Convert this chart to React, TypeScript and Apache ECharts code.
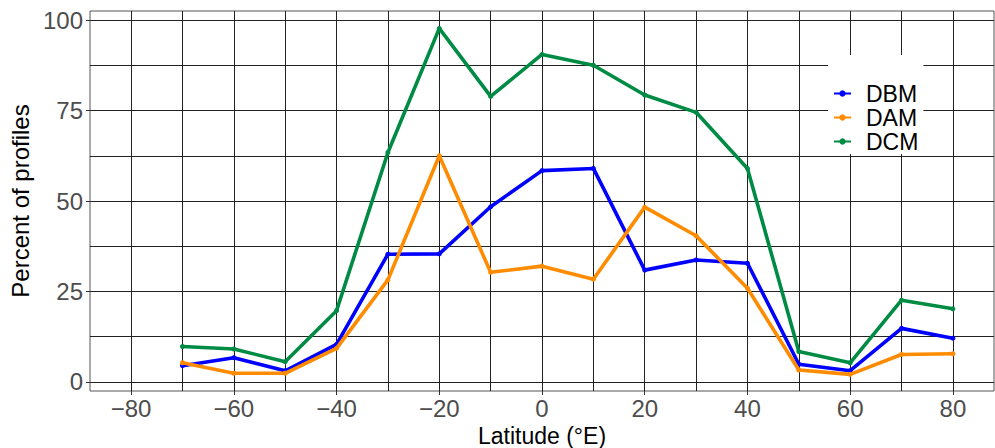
import React, { useEffect, useRef } from "react";
import * as echarts from "echarts";

const latitudes = [-70, -60, -50, -40, -30, -20, -10, 0, 10, 20, 30, 40, 50, 60, 70, 80];
const dbm = [4.5, 6.7, 3.1, 10.4, 35.3, 35.4, 48.4, 58.4, 59.0, 30.9, 33.7, 32.8, 4.9, 3.1, 14.8, 12.1];
const dam = [5.3, 2.4, 2.4, 9.3, 28.2, 62.5, 30.3, 32.0, 28.4, 48.3, 40.4, 25.9, 3.3, 2.1, 7.6, 7.8];
const dcm = [9.8, 9.1, 5.6, 19.7, 63.4, 97.7, 78.9, 90.5, 87.5, 79.3, 74.5, 59.0, 8.4, 5.3, 22.6, 20.2];

const xMajorTicks = [-80, -60, -40, -20, 0, 20, 40, 60, 80];
const xGridTicks = [-80, -70, -60, -50, -40, -30, -20, -10, 0, 10, 20, 30, 40, 50, 60, 70, 80];
const yMajorTicks = [0, 25, 50, 75, 100];
const yGridTicks = [0, 12.5, 25, 37.5, 50, 62.5, 75, 87.5, 100];

const seriesNames = ["DBM", "DAM", "DCM"];
const seriesColors = ["#0000ff", "#ff8c00", "#008b45"];
const seriesValues = [dbm, dam, dcm];

const FONT = "Liberation Sans, Arial, sans-serif";
const minusFmt = (v: number) => String(v).replace("-", "\u2212");

export default function App() {
  const ref = useRef<HTMLDivElement>(null);
  useEffect(() => {
    document.body.style.margin = "0";
    if (!ref.current) return;
    const chart = echarts.init(ref.current, null, { renderer: "svg" });
    const gridLine = { show: true, lineStyle: { color: "#222", width: 1 } };
    chart.setOption({
      animation: false,
      backgroundColor: "#fff",
      textStyle: { fontFamily: FONT },
      grid: {
        left: 90,
        right: 1,
        top: 11,
        bottom: 57,
        containLabel: false,
        outerBoundsMode: "none",
        show: true,
        borderColor: "#555",
        borderWidth: 1,
        backgroundColor: "transparent",
      },
      legend: {
        orient: "vertical",
        left: 828,
        top: 55,
        padding: [27, 5, 1, 5],
        itemGap: 1,
        itemWidth: 17,
        itemHeight: 8,
        backgroundColor: "#fff",
        data: seriesNames,
        textStyle: {
          fontFamily: FONT,
          fontSize: 23,
          lineHeight: 23,
          color: "#000",
          padding: [0, 0, 0, 10],
        },
      },
      xAxis: [
        {
          type: "value",
          min: -88,
          max: 88,
          position: "bottom",
          axisLine: { show: false, onZero: false },
          axisTick: { show: false, customValues: xGridTicks },
          axisLabel: { show: false },
          splitLine: gridLine,
        },
        {
          type: "value",
          min: -88,
          max: 88,
          position: "bottom",
          gridIndex: 0,
          axisLine: { show: false, onZero: false },
          axisTick: { show: true, length: 4, customValues: xMajorTicks, lineStyle: { color: "#333", width: 1 } },
          axisLabel: {
            show: true,
            customValues: xMajorTicks,
            formatter: minusFmt,
            fontSize: 24,
            color: "#4d4d4d",
            fontFamily: FONT,
            margin: 5,
          },
          splitLine: { show: false },
          name: "Latitude (\u00b0E)",
          nameLocation: "middle",
          nameGap: 28,
          nameTextStyle: { fontSize: 23, lineHeight: 23, color: "#000", fontFamily: FONT },
        },
      ],
      yAxis: [
        {
          type: "value",
          min: -2.5,
          max: 102.5,
          position: "left",
          axisLine: { show: false, onZero: false },
          axisTick: { show: false, customValues: yGridTicks },
          axisLabel: { show: false },
          splitLine: gridLine,
        },
        {
          type: "value",
          min: -2.5,
          max: 102.5,
          position: "left",
          gridIndex: 0,
          axisLine: { show: false, onZero: false },
          axisTick: { show: true, length: 4, customValues: yMajorTicks, lineStyle: { color: "#333", width: 1 } },
          axisLabel: {
            show: true,
            customValues: yMajorTicks,
            fontSize: 24,
            color: "#4d4d4d",
            fontFamily: FONT,
            margin: 7,
          },
          splitLine: { show: false },
          name: "Percent of profiles",
          nameLocation: "middle",
          nameGap: 52,
          nameTextStyle: { fontSize: 24, color: "#000", fontFamily: FONT },
        },
      ],
      series: seriesNames.map((name, i) => ({
        name,
        type: "line",
        xAxisIndex: 0,
        yAxisIndex: 0,
        data: latitudes.map((lat, j) => [lat, seriesValues[i][j]]),
        symbol: "circle",
        symbolSize: 5,
        showSymbol: true,
        color: seriesColors[i],
        lineStyle: { width: 3.6, color: seriesColors[i] },
        itemStyle: { color: seriesColors[i] },
        z: 3 + i,
      })),
    });
    return () => chart.dispose();
  }, []);
  return <div ref={ref} style={{ width: 995, height: 448 }} />;
}
